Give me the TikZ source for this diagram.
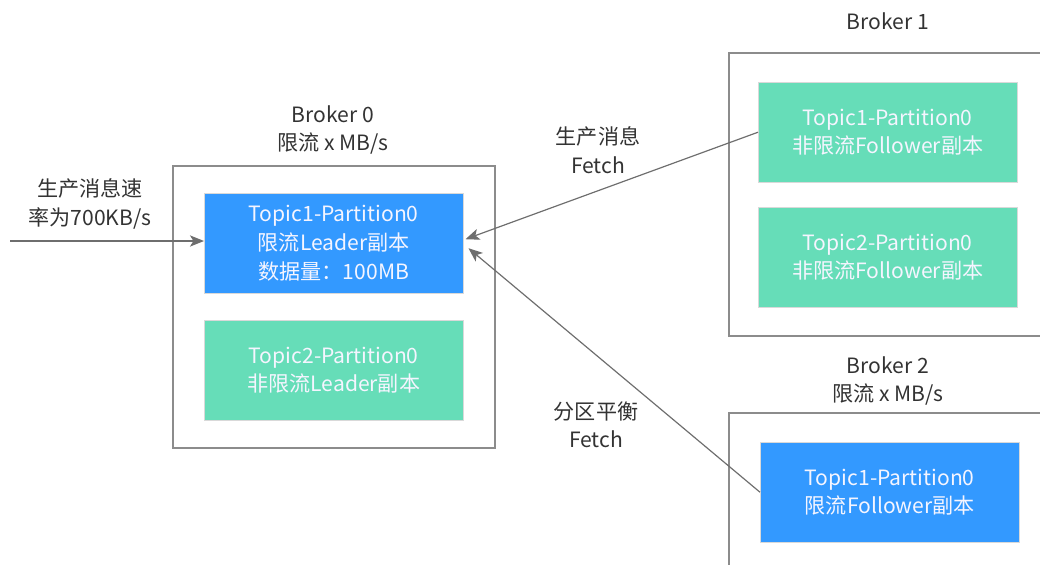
\documentclass[tikz,border=0pt]{standalone}
\usepackage{fontspec}
\setmainfont{Noto Sans CJK SC}
\usetikzlibrary{positioning,arrows.meta}
\definecolor{limitblue}{HTML}{3399FF}
\definecolor{freegreen}{HTML}{66DDB8}
\definecolor{framegray}{HTML}{8C8C8C}
\definecolor{arrowgray}{HTML}{6E6E6E}
\definecolor{labelgray}{HTML}{333333}

\begin{document}
\begin{tikzpicture}[x=0.025cm, y=-0.025cm,
    font=\fontsize{15}{20.3}\selectfont, text=labelgray,
    broker/.style={draw=framegray, line width=1.2pt, anchor=north west, inner sep=0pt},
    replica/.style={draw=white!85!black, line width=0.3pt, anchor=north west,
      minimum width=6.475cm, minimum height=2.5cm, inner sep=0pt,
      align=center, text=white!96!blue},
    limited/.style={replica, fill=limitblue},
    unlimited/.style={replica, fill=freegreen},
    caption/.style={align=center, inner sep=0pt},
    fetch/.style={draw=arrowgray, line width=0.85pt,
      -{Stealth[length=10pt, width=8pt, inset=2.5pt]}}]
  \clip (0,0) rectangle (1040,565);

  % brokers
  \node[broker, minimum width=8.05cm, minimum height=7.05cm] (b0) at (172,165) {};
  \node[broker, minimum width=8.5cm, minimum height=7.075cm] (b1) at (728,52) {};
  \node[broker, minimum width=8.5cm, minimum height=5cm] (b2) at (728,412) {};

  \node[caption] (b0cap) at (333,130) {Broker 0\\限流 x MB/s};
  \node[caption] (b1cap) at (888,21) {Broker 1};
  \node[caption] (b2cap) at (888,381) {Broker 2\\限流 x MB/s};

  % replicas
  \node[limited] (leader) at (204,193) {Topic1-Partition0\\限流Leader副本\\数据量：100MB};
  \node[unlimited] (leader2) at (204,320) {Topic2-Partition0\\非限流Leader副本};
  \node[unlimited] (foll1) at (758,82) {Topic1-Partition0\\非限流Follower副本};
  \node[unlimited] (foll2) at (758,207) {Topic2-Partition0\\非限流Follower副本};
  \node[limited] (foll3) at (760,442) {Topic1-Partition0\\限流Follower副本};

  % traffic
  \coordinate (src) at (10,241);
  \draw[fetch] (src) -- (leader.west |- src);
  \node[caption] (rate) at (90,204) {生产消息速\\率为700KB/s};

  \draw[fetch] (foll1.west) -- ([shift={(2,-4)}]leader.east);
  \draw[fetch] (foll3.west) -- ([shift={(5,5)}]leader.east);
  \node[caption] (prodfetch) at (598,150) {生产消息\\Fetch};
  \node[caption] (balfetch) at (596,425) {分区平衡\\Fetch};
\end{tikzpicture}
\end{document}
